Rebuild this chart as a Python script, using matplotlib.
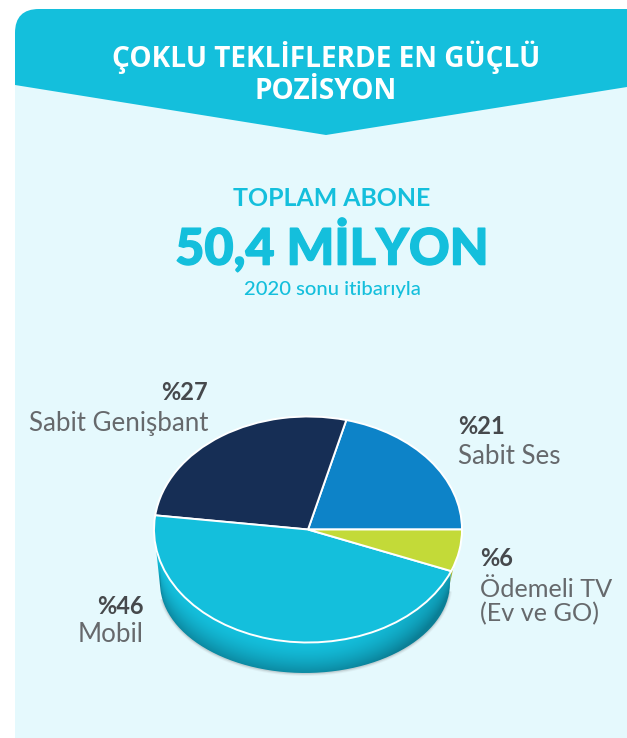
import numpy as np
import matplotlib
matplotlib.use("Agg")
import matplotlib.pyplot as plt
import matplotlib.patheffects as pe
from matplotlib.patches import FancyBboxPatch, Polygon, PathPatch
from matplotlib.path import Path

W, H = 627, 738

categories = ["Sabit Ses", "Sabit Genişbant", "Mobil", "Ödemeli TV\n(Ev ve GO)"]
shares = [21, 27, 46, 6]
share_labels = ["%21", "%27", "%46", "%6"]
colors = ["#0D83C8", "#162E55", "#14BFDC", "#C3DA38"]

title = "ÇOKLU TEKLİFLERDE EN GÜÇLÜ\nPOZİSYON"
sub_top = "TOPLAM ABONE"
total = "50,4 MİLYON"
sub_bottom = "2020 sonu itibarıyla"

CYAN = "#14BFDC"
PANEL = "#E5F9FD"
TEXT = "#66696C"
DARK = "#46494C"

# ellipses in pixels: top face and the smaller base of the drum
cx, cy, rx, ry = 308, 529.5, 154, 113
bx, by, brx, bry = 305, 583, 145, 90

plt.rcParams['font.family'] = ['Lato', 'DejaVu Sans']
fig = plt.figure(figsize=(W / 100, H / 100), dpi=100, facecolor="white")
ax = fig.add_axes([0, 0, 1, 1])
ax.set_xlim(0, W)
ax.set_ylim(H, 0)
ax.axis("off")

panel = FancyBboxPatch((15, 9), 640, 800, boxstyle="round,pad=0,rounding_size=24",
                       fc=PANEL, ec="none", zorder=1)
ax.add_patch(panel)
head = FancyBboxPatch((15, 9), 640, 800, boxstyle="round,pad=0,rounding_size=24",
                      fc=CYAN, ec="none", zorder=2)
ax.add_patch(head)
head.set_clip_path(Polygon([(0, 0), (W, 0), (W, 87), (326, 135), (15, 85), (0, 85)],
                           transform=ax.transData))

ax.text(326, 73.5, title, color="white", ha="center", va="center", fontsize=20.2,
        fontweight="bold", family=["Open Sans", "DejaVu Sans"], linespacing=1.12, zorder=5)
ax.text(332, 198, sub_top, color=CYAN, ha="center", va="center", fontsize=17.9, fontweight="bold", zorder=5)
big = ax.text(332, 246, total, color=CYAN, ha="center", va="center", fontsize=36.2, fontweight="black", zorder=5)
big.set_path_effects([pe.withStroke(linewidth=1.0, foreground=CYAN)])
ax.text(332, 289, sub_bottom, color=CYAN, ha="center", va="center", fontsize=14.6, fontweight="medium", zorder=5)

# angles of the slice boundaries, counter clockwise from 3 o'clock
edges = np.cumsum([0] + shares) / sum(shares) * 360


def rim_path(a0, a1, b0, b1):
    t = np.radians(np.linspace(a0, a1, 120))
    s = np.radians(np.linspace(b0, b1, 120))
    top = np.column_stack([cx + rx * np.cos(t), cy - ry * np.sin(t)])
    bot = np.column_stack([bx + brx * np.cos(s), by - bry * np.sin(s)])[::-1]
    return Path(np.vstack([top, bot, top[:1]]))


def rim_image(base, dark):
    # darker toward the base of the drum and toward the right side
    xs, ys = np.meshgrid(np.arange(W), np.arange(H))
    upper = cy + ry * np.sqrt(np.clip(1 - ((xs - cx) / rx) ** 2, 0, 1))
    lower = by + bry * np.sqrt(np.clip(1 - ((xs - bx) / brx) ** 2, 0, 1))
    tt = np.clip((ys - upper) / (lower - upper + 1e-6), 0, 1)
    side = np.clip((xs - cx) / rx, 0, 1) ** 2
    mix = np.clip(tt ** 1.6 * 0.85 + side * 0.65, 0, 1)[..., None]
    return (1 - mix) * np.array(matplotlib.colors.to_rgb(base)) + mix * np.array(matplotlib.colors.to_rgb(dark))


# soft shadow under the drum
for grow, alpha in [(2.5, 0.06), (1.5, 0.08), (0.7, 0.12)]:
    t = np.radians(np.linspace(190, 355, 200))
    ax.fill(bx + (brx + grow) * np.cos(t), by + 0.5 - (bry + grow) * np.sin(t),
            color="#555555", alpha=alpha, lw=0, zorder=3)

mobile = ax.imshow(rim_image(colors[2], "#0A7F96"), extent=(0, W, H, 0), zorder=4, aspect="auto")
mobile.set_clip_path(PathPatch(rim_path(180, edges[3], 185, 360), transform=ax.transData))
yellow = ax.imshow(rim_image(colors[3], "#8FA024"), extent=(0, W, H, 0), zorder=4, aspect="auto")
yellow.set_clip_path(PathPatch(rim_path(edges[3], edges[4], 360, 360), transform=ax.transData))
ax.set_xlim(0, W)
ax.set_ylim(H, 0)

# top face of the pie, its own axes stretched to the ellipse box
pie_ax = fig.add_axes([(cx - rx) / W, 1 - (cy + ry) / H, 2 * rx / W, 2 * ry / H], zorder=5)
pie_ax.pie(shares, colors=colors, startangle=0, counterclock=True, radius=1,
           wedgeprops={"edgecolor": "white", "linewidth": 1.4})
pie_ax.set_xlim(-1.0, 1.0)
pie_ax.set_ylim(-1.0, 1.0)
pie_ax.set_aspect("auto")
for w in pie_ax.patches:
    w.set_clip_on(False)

# labels: percent in heavier weight, name in lighter grey
name_size = 18.6
ax.text(458, 427, share_labels[0], color=DARK, fontsize=17, fontweight="bold", va="center", ha="left", zorder=6)
ax.text(458, 456, categories[0], color=TEXT, fontsize=name_size, va="center", ha="left", zorder=6)
ax.text(208, 393, share_labels[1], color=DARK, fontsize=17, fontweight="bold", va="center", ha="right", zorder=6)
ax.text(208, 423, categories[1], color=TEXT, fontsize=name_size, va="center", ha="right", zorder=6)
ax.text(144, 606, share_labels[2], color=DARK, fontsize=17, fontweight="bold", va="center", ha="right", zorder=6)
ax.text(144, 635, categories[2], color=TEXT, fontsize=name_size, va="center", ha="right", zorder=6)
ax.text(480, 559, share_labels[3], color=DARK, fontsize=17, fontweight="bold", va="center", ha="left", zorder=6)
ax.text(480, 602, categories[3], color=TEXT, fontsize=18.2, va="center", ha="left", linespacing=1.05, zorder=6)

fig.savefig("out.png", dpi=100)
